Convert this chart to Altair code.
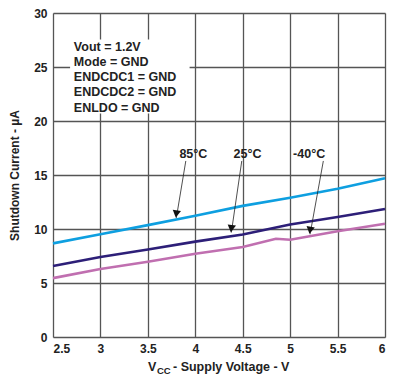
import altair as alt
import pandas as pd

# ---- data ----
vcc_85 = [2.5, 3.0, 3.5, 4.0, 4.5, 5.0, 5.5, 6.0]
i_85 = [8.67, 9.51, 10.36, 11.23, 12.14, 12.89, 13.73, 14.70]
vcc_25 = [2.5, 3.0, 3.5, 4.0, 4.5, 5.0, 5.5, 6.0]
i_25 = [6.57, 7.41, 8.10, 8.83, 9.49, 10.42, 11.11, 11.86]
vcc_m40 = [2.5, 3.0, 3.5, 4.0, 4.5, 4.85, 5.0, 5.5, 6.0]
i_m40 = [5.45, 6.30, 6.96, 7.71, 8.34, 9.10, 9.01, 9.79, 10.48]

series_names = ["85°C", "25°C", "-40°C"]
series_colors = ["#0E9FE0", "#2D1F78", "#C06FB0"]

x_ticks = [2.5, 3, 3.5, 4, 4.5, 5, 5.5, 6]
y_ticks = [0, 5, 10, 15, 20, 25, 30]

cond_lines = ["Vout = 1.2V", "Mode = GND", "ENDCDC1 = GND", "ENDCDC2 = GND", "ENLDO = GND"]
cond_y = [26.83, 25.47, 24.06, 22.67, 21.25]

# annotation labels and arrows
lab_x = [3.98, 4.55, 5.2]
lab_y = [16.9, 16.9, 16.9]
arr_x1 = [3.90, 4.49, 5.35]
arr_y1 = [16.3, 16.3, 16.3]
arr_x2 = [3.80, 4.38, 5.21]
arr_y2 = [11.02, 9.67, 9.51]
head_angle = [9, 8, 10]

FONT = "Liberation Sans"

rows = []
for name, xv, vals in zip(series_names, [vcc_85, vcc_25, vcc_m40], [i_85, i_25, i_m40]):
    for v, c in zip(xv, vals):
        rows.append({"vcc": v, "current": c, "series": name})
df = pd.DataFrame(rows)

xs = alt.Scale(domain=[2.5, 6], nice=False, zero=False)
ys = alt.Scale(domain=[0, 30], nice=False)

base_x = alt.X("vcc:Q", scale=xs,
               axis=alt.Axis(values=x_ticks, title=None, grid=True, ticks=False,
                             labelFont=FONT, labelFontSize=12, labelFontWeight="bold",
                             labelColor="#222", labelPadding=6, gridColor="#555",
                             gridWidth=1.3, domain=False,
                             labelExpr="datum.value"))
base_y = alt.Y("current:Q", scale=ys,
               axis=alt.Axis(values=y_ticks, title="Shutdown Current - µA", grid=True,
                             ticks=False, labelFont=FONT, labelFontSize=12,
                             labelFontWeight="bold", labelColor="#222", labelPadding=6,
                             titleFont=FONT, titleFontSize=12, titleFontWeight="bold",
                             titleColor="#222", titlePadding=12, gridColor="#555",
                             gridWidth=1.3, domain=False))

lines = alt.Chart(df).mark_line(strokeWidth=2.6).encode(
    x=base_x, y=base_y,
    color=alt.Color("series:N", scale=alt.Scale(domain=series_names, range=series_colors),
                    legend=None),
)

box_df = pd.DataFrame({"x": [2.68], "x2": [3.94], "y": [20.7], "y2": [27.55]})
box = alt.Chart(box_df).mark_rect(color="white").encode(
    x=alt.X("x:Q", scale=xs), x2="x2", y=alt.Y("y:Q", scale=ys), y2="y2")

cond_df = pd.DataFrame({"t": cond_lines, "y": cond_y, "x": [2.72] * len(cond_lines)})
cond = alt.Chart(cond_df).mark_text(align="left", baseline="middle", font=FONT,
                                    fontSize=12.5, fontWeight="bold", color="#222").encode(
    x=alt.X("x:Q", scale=xs), y=alt.Y("y:Q", scale=ys), text="t")

lab_df = pd.DataFrame({"t": series_names, "x": lab_x, "y": lab_y})
labs = alt.Chart(lab_df).mark_text(align="center", baseline="middle", font=FONT,
                                   fontSize=12.5, fontWeight="bold", color="#222").encode(
    x=alt.X("x:Q", scale=xs), y=alt.Y("y:Q", scale=ys), text="t")

arr_df = pd.DataFrame({"x": arr_x1, "y": arr_y1, "x2": arr_x2, "y2": arr_y2,
                       "a": head_angle})
shafts = alt.Chart(arr_df).mark_rule(color="#222", strokeWidth=0.8).encode(
    x=alt.X("x:Q", scale=xs), y=alt.Y("y:Q", scale=ys), x2="x2", y2="y2")
heads = alt.Chart(arr_df).mark_point(shape="triangle-down", filled=True, color="#111",
                                     size=70, opacity=1).encode(
    x=alt.X("x2:Q", scale=xs), y=alt.Y("y2:Q", scale=ys),
    angle=alt.Angle("a:Q", scale=None), yOffset=alt.value(-4))

# x-axis title with subscript
t_v = alt.Chart(pd.DataFrame({"t": ["V"]})).mark_text(
    align="left", baseline="middle", font=FONT, fontSize=12.5, fontWeight="bold",
    color="#222").encode(x=alt.value(95), y=alt.value(354), text="t")
t_cc = alt.Chart(pd.DataFrame({"t": ["CC"]})).mark_text(
    align="left", baseline="middle", font=FONT, fontSize=9.5, fontWeight="bold",
    color="#222").encode(x=alt.value(104), y=alt.value(358), text="t")
t_rest = alt.Chart(pd.DataFrame({"t": [" - Supply Voltage - V"]})).mark_text(
    align="left", baseline="middle", font=FONT, fontSize=12.5, fontWeight="bold",
    color="#222").encode(x=alt.value(120), y=alt.value(354), text="t")

chart = alt.layer(lines, box, cond, shafts, heads, labs, t_v, t_cc, t_rest).properties(
    width=332, height=324,
    autosize=alt.AutoSizeParams(type="none"),
    padding={"left": 45, "top": 5, "right": 9, "bottom": 40},
).configure_view(stroke="#222", strokeWidth=1.5).configure(background="white")

chart.save("out.html", embed_options={"renderer": "svg", "actions": False})
